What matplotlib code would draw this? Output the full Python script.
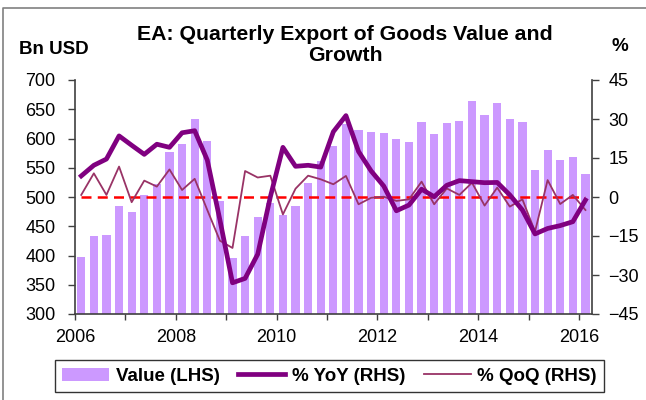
import matplotlib
matplotlib.use("Agg")
import matplotlib.pyplot as plt
import numpy as np

plt.rcParams["font.family"] = ["Liberation Sans", "DejaVu Sans"]

# quarterly data, 2006Q1 - 2016Q1
value = [397, 433, 435, 485, 474, 503, 522, 577, 591, 633, 595, 494,
         396, 434, 466, 490, 470, 485, 524, 562, 587, 625, 615, 611,
         610, 599, 594, 628, 608, 626, 630, 664, 640, 661, 633, 628,
         546, 580, 564, 568, 539]
yoy = [8.1, 12.2, 14.6, 23.5, 19.9, 16.4, 20.3, 19.1, 24.7, 25.5, 14.2, -8.8,
       -33, -31.3, -22, 0, 19.1, 11.8, 12.2, 11.5, 25.1, 31.3, 17.5, 10,
       4.2, -5.3, -3.1, 3.0, 0.1, 4.5, 6.3, 5.9, 5.5, 5.6, 0.8, -5,
       -14.2, -12.1, -11, -9.5, -1.2]
qoq = [0.8, 9.1, 0.8, 11.7, -2, 6.3, 4, 10.6, 2.7, 7, -5, -16.8,
       -19.6, 10, 7.5, 8.2, -6.7, 3.2, 8.2, 6.8, 4.9, 8.1, -2.8, -0.3,
       0.1, -1.5, -0.9, 5.9, -2.8, 3.3, 0.8, 5.5, -3.3, 3.6, -3.7, -0.9,
       -13.3, 6.5, -2.7, 0.8, -5]
years = list(range(2006, 2017))

x = np.arange(len(value)) + 0.5

fig = plt.figure(figsize=(6.46, 4.0), dpi=100)
ax = fig.add_axes([0.116, 0.215, 0.800, 0.585])

bars = ax.bar(x, value, width=0.65, color="#CC99FF", label="Value (LHS)", zorder=2)
ax.set_ylim(300, 700)
ax.set_yticks(range(300, 701, 50))
ax.set_xlim(0, len(value))
ax.set_xticks(np.arange(0, len(value), 4))
ax.set_xticklabels([str(y) if (y - 2006) % 2 == 0 else "" for y in years])

ax2 = ax.twinx()
ax2.set_ylim(-45, 45)
ax2.set_yticks(range(-45, 46, 15))
ax2.plot(x, [0] * len(x), color="red", lw=1.8, ls=(0, (4, 2.5)), zorder=3)
l1, = ax2.plot(x, yoy, color="#800080", lw=3.4, label="% YoY (RHS)", zorder=5)
l2, = ax2.plot(x, qoq, color="#993366", lw=1.3, label="% QoQ (RHS)", zorder=4)

for a in (ax, ax2):
    a.spines["top"].set_visible(False)
    for s in ("left", "right", "bottom"):
        a.spines[s].set_color("#404040")
        a.spines[s].set_linewidth(1.2)
    a.tick_params(direction="out", length=5, width=1, colors="#404040",
                  labelcolor="black", labelsize=13)
ax.spines["right"].set_visible(False)
ax2.spines["left"].set_visible(False)
ax2.spines["bottom"].set_visible(False)
ax.tick_params(axis="y", pad=9)
ax2.tick_params(axis="y", pad=7)
ax.tick_params(axis="x", length=4, pad=7)

fig.text(0.534, 0.888, "EA: Quarterly Export of Goods Value and\nGrowth",
         ha="center", va="center", fontsize=15.3, fontweight="bold", linespacing=1.12)
fig.text(0.03, 0.875, "Bn USD", ha="left", va="center", fontsize=13.5, fontweight="bold")
fig.text(0.96, 0.883, "%", ha="center", va="center", fontsize=13.5, fontweight="bold")

leg = fig.legend(handles=[bars, l1, l2], loc="center", ncol=3,
                 bbox_to_anchor=(0.51, 0.059), frameon=True, fancybox=False,
                 edgecolor="black", fontsize=13.5, handlelength=2.5,
                 columnspacing=1.0, handletextpad=0.35, borderpad=0.4)
for t in leg.get_texts():
    t.set_fontweight("bold")
leg.get_frame().set_linewidth(1.0)

# outer frame (top and left edges visible)
fig.add_artist(plt.Line2D([0.005, 0.005, 1.0], [0.0, 0.98, 0.98], transform=fig.transFigure,
                          color="#808080", lw=1.2))

fig.savefig("out.png", dpi=100)
